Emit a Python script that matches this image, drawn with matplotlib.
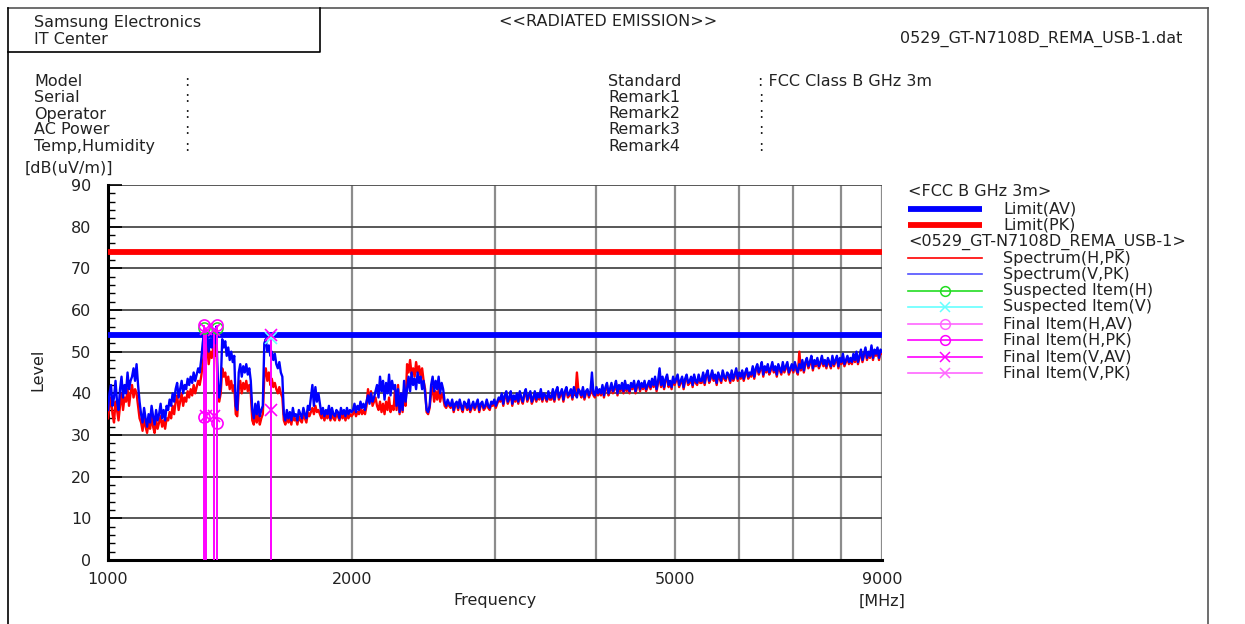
import numpy as np
import matplotlib
matplotlib.use("Agg")
import matplotlib.pyplot as plt
from matplotlib.ticker import FixedLocator, MultipleLocator

plt.rcParams['font.family'] = ['DejaVu Sans']

# ---------------- data ----------------
limit_freq = [1000, 9000]
limit_av = [54, 54]
limit_pk = [74, 74]

# Spectrum (V, PK) levels; sweep 1000-9000 MHz (log-spaced sweep points)
spec_v = ([36, 40, 42, 37, 39, 43, 38, 36, 41, 44, 39, 42, 40, 45, 41, 43, 44, 46, 43, 47]
          + [42, 38]
          + [35, 33, 36.5, 34, 32, 35, 33, 37, 34.5, 32.5, 36, 33.5, 35, 37.5, 34, 36, 33.5, 37]
          + [36, 38.5, 37, 40, 38, 41, 42.5, 39, 41, 43, 40, 42, 41, 43.5, 42, 44, 42.5, 45, 43, 44.5, 46]
          + [45, 48, 52]
          + [55, 52, 54.5, 50, 53, 51, 55.5, 52, 56]
          + [44, 39, 42]
          + [53, 51, 52.5, 49, 51, 48, 50, 47.5, 49]
          + [37, 36]
          + [45, 47, 44, 46.5, 45, 47, 44.5, 46, 43]
          + [36, 34, 37.5, 35, 38, 34.5, 36, 37]
          + [52, 53, 50, 51.5, 49, 50, 48, 49.5, 47, 46, 47.5, 45, 44]
          + [35, 33.5, 36, 34, 35.5, 33.5, 36.5, 34.5, 35, 33.5, 36, 35, 34, 36.5, 35, 34, 37, 36]
          + [39, 42, 37, 41.5, 38, 40, 37.5]
          + [35, 36.5, 34.5, 36, 35, 37, 34, 36.5, 35, 34.5, 36, 35.5, 34, 36.5, 35, 36, 34.5, 36.5, 35, 36, 35.5]
          + [36, 37.5, 35.5, 37, 36, 38, 36.5, 37.5, 36]
          + [38, 39.5, 37.5, 40, 38, 39, 40.5]
          + [42, 39, 44, 40.5, 43, 38.5, 42.5, 40, 44.5, 39.5, 43, 41, 42]
          + [37, 41, 35.5, 40, 36, 43, 38]
          + [41, 44, 40.5, 45, 42, 43.5, 41, 45, 42.5, 44, 41, 43, 40]
          + [36, 35.5, 37]
          + [42, 44, 40.5, 43, 41, 44, 40, 42.5, 41]
          + [38, 37, 38.5, 37.5]
          + [37, 38.5, 36, 37.5, 38, 36.5, 38.5, 37, 36, 38, 37.5, 36.5, 38.5, 36, 37, 38, 36.5,
             37.5, 38.5, 36, 37.5, 38, 36.5, 37, 38.5, 37, 36.5, 38, 37.5, 38.5, 37, 38, 39]
          + [38.5, 40, 37.5, 39.5, 40.5, 38, 39, 40.5, 37.5, 39.5, 38.5, 40, 38, 40.5, 39, 38, 40,
             41, 38.5, 39.5, 40.5, 38, 39, 40.5, 38.5, 40, 39, 41, 38.5, 40, 39.5, 38.5, 40.5, 39]
          + [39, 41, 38.5, 40.5, 41.5, 39, 40, 41, 38.5, 40.5, 41.5, 39.5, 40, 41, 39, 41.5, 40,
             39, 41, 40.5, 39.5, 41.5, 39, 40.5, 41, 39.5, 40.5, 45, 40, 39.5, 41.5, 40, 41]
          + [40, 42, 39.5, 41.5, 42.5, 40, 41, 42.5, 40.5, 41.5, 43, 40, 42, 41, 42.5, 40.5, 43,
             41, 42, 40.5, 42.5, 41.5, 43, 40.5, 42, 43, 41, 42.5, 41.5, 43, 41, 42, 43]
          + [41.5, 43.5, 42, 44, 41, 43, 46, 42, 44, 41.5, 43.5, 44.5, 42, 43, 41.5, 44, 42.5,
             43.5, 44.5, 42, 43, 44, 41.5, 43.5, 44.5, 42.5, 43, 44, 42, 44.5, 43, 42.5, 44.5, 43]
          + [43, 45, 42.5, 44.5, 45.5, 43, 44, 45.5, 43.5, 44.5, 42.5, 45, 44, 43, 45.5, 44, 43.5,
             45, 44.5, 43, 45.5, 43.5, 44.5, 46, 43.5, 45, 44, 45.5, 43.5, 45, 46, 44, 45]
          + [44.5, 46.5, 44, 46, 47, 45, 46, 47.5, 44.5, 46.5, 45.5, 47, 45, 46, 47.5, 45.5, 46.5,
             44.5, 47, 46, 45, 47.5, 45.5, 46.5, 47.5, 45, 46, 47, 45.5, 47.5, 46, 45, 47]
          + [46, 48, 45.5, 47.5, 48.5, 46.5, 47.5, 49, 46, 48, 47, 48.5, 46.5, 47.5, 49, 47, 48,
             46.5, 48.5, 47.5, 46.5, 49, 47, 48, 49, 46.5, 48.5, 47.5, 49.5, 47, 48, 49, 47.5, 48.5]
          + [47.5, 49.5, 48, 50, 47.5, 49, 50.5, 48, 49.5, 51, 48.5, 50, 49, 51.5, 48.5, 50.5,
             49.5, 51, 48.5, 50.5, 50])

# Spectrum (H, PK) levels
spec_h = ([34, 37, 39, 35, 33, 38, 36, 33.5, 37, 40, 36, 39, 38, 41, 37, 40, 42, 39, 41, 40]
          + [37, 34]
          + [33, 31, 34, 32, 30.5, 33, 31.5, 34.5, 32, 30.5, 33.5, 31.5, 33, 34.5, 32, 33.5, 31.5, 34]
          + [33.5, 35.5, 34, 37, 35, 38, 39.5, 36, 38, 40, 37, 39, 38, 40.5, 39, 41, 39.5, 42, 40, 41.5, 43]
          + [42, 44, 47]
          + [50, 48, 52, 47, 50, 48.5, 51, 49, 52]
          + [41, 38, 40]
          + [46, 44, 45, 42, 44, 41, 43, 40.5, 42]
          + [35, 34.5]
          + [41, 43, 40, 42.5, 41, 43, 40.5, 42, 40]
          + [33.5, 32.5, 35, 33, 35.5, 32.5, 34, 35]
          + [44, 46, 43, 45, 42, 43.5, 41.5, 42.5, 41, 40, 41.5, 40, 39]
          + [33.5, 32.5, 34.5, 33, 34, 32.5, 35, 33.5, 34, 32.5, 34.5, 33.5, 33, 35, 34, 33, 35.5, 34.5]
          + [35.5, 36.5, 35, 37, 35.5, 36, 35]
          + [34, 35, 33.5, 35, 34, 35.5, 33.5, 35, 34, 33.5, 35, 34.5, 33.5, 35.5, 34, 35, 33.5, 35, 34, 35, 34.5]
          + [35, 36, 34.5, 35.5, 35, 36.5, 35, 36, 35]
          + [37, 41, 38, 40.5, 37, 38, 39]
          + [37, 36, 38, 35.5, 37.5, 35, 38, 36, 39, 35.5, 37, 36, 41]
          + [36, 42, 35, 39, 35.5, 41, 37]
          + [47, 45, 48, 44.5, 46, 44, 47.5, 45, 46.5, 44, 46, 43, 41]
          + [35.5, 35, 36.5]
          + [40, 41.5, 38, 40.5, 38.5, 41, 38, 40, 39]
          + [37, 36.5, 37.5, 37]
          + [36.5, 38, 35.5, 37, 37.5, 36, 38, 36.5, 35.5, 37.5, 37, 36, 38, 35.5, 36.5, 37.5, 36,
             37, 38, 35.5, 37, 37.5, 36, 36.5, 38, 36.5, 36, 37.5, 37, 38, 36.5, 37.5, 38.5]
          + [38, 39.5, 37, 39, 40, 37.5, 38.5, 40, 37, 39, 38, 39.5, 37.5, 40, 38.5, 37.5, 39.5,
             40.5, 38, 39, 40, 37.5, 38.5, 40, 38, 39.5, 38.5, 40.5, 38, 39.5, 39, 38, 40, 38.5]
          + [38.5, 40.5, 38, 40, 41, 38.5, 39.5, 40.5, 38, 40, 41, 39, 39.5, 40.5, 38.5, 41, 39.5,
             45, 40.5, 40, 39, 41, 38.5, 40, 40.5, 39, 40, 41, 39.5, 39, 41, 39.5, 40.5]
          + [39.5, 41.5, 39, 41, 42, 39.5, 40.5, 42, 40, 41, 42.5, 39.5, 41.5, 40.5, 42, 40, 42.5,
             40.5, 41.5, 40, 42, 41, 42.5, 40, 41.5, 42.5, 40.5, 42, 41, 42.5, 40.5, 41.5, 42.5]
          + [41, 43, 41.5, 43.5, 40.5, 42.5, 44, 41.5, 43.5, 41, 43, 44, 41.5, 42.5, 41, 43.5, 42,
             43, 44, 41.5, 42.5, 43.5, 41, 43, 44, 42, 42.5, 43.5, 41.5, 44, 42.5, 42, 44, 42.5]
          + [42.5, 44.5, 42, 44, 45, 42.5, 43.5, 45, 43, 44, 42, 44.5, 43.5, 42.5, 45, 43.5, 43,
             44.5, 44, 42.5, 45, 43, 44, 45.5, 43, 44.5, 43.5, 45, 43, 44.5, 45.5, 43.5, 44.5]
          + [44, 46, 43.5, 45.5, 46.5, 44.5, 45.5, 47, 44, 46, 45, 46.5, 44.5, 45.5, 47, 45, 46,
             44, 46.5, 45.5, 44.5, 47, 45, 46, 47, 44.5, 45.5, 46.5, 45, 47, 45.5, 44.5, 50]
          + [45.5, 47.5, 45, 47, 48, 46, 47, 48.5, 45.5, 47.5, 46.5, 48, 46, 47, 48.5, 46.5, 47.5,
             46, 48, 47, 46, 48.5, 46.5, 47.5, 48.5, 46, 48, 47, 49, 46.5, 47.5, 48.5, 47, 48]
          + [47, 49, 47.5, 49.5, 47, 48.5, 50, 47.5, 49, 50.5, 48, 49.5, 48.5, 51, 48, 50, 49,
             50.5, 48, 50, 49.5])

# Final items
final_h_freq = [1313, 1361]
final_h_pk = [56.3, 56.5]
final_h_av = [34.3, 32.8]
final_v_freq = [1320, 1350, 1587]
final_v_pk = [55.5, 55.3, 54.0]
final_v_av = [34.5, 34.6, 36.0]
# Suspected items
susp_h_freq = [1313, 1361]
susp_h_lvl = [55.8, 55.6]
susp_v_freq = [1587]
susp_v_lvl = [53.4]

y_ticks = [0, 10, 20, 30, 40, 50, 60, 70, 80, 90]
x_grid = [1000, 2000, 3000, 4000, 5000, 6000, 7000, 8000, 9000]
x_labels = {1000: "1000", 2000: "2000", 5000: "5000", 9000: "9000"}

# ---------------- figure ----------------
W, H = 1245, 624
fig = plt.figure(figsize=(W / 100, H / 100), dpi=100)

ax = fig.add_axes([108 / W, 1 - 560 / H, (882 - 108) / W, (560 - 185) / H])
ax.set_xscale('log')
ax.set_xlim(1000, 9000)
ax.set_ylim(0, 90)

fv = np.geomspace(1000, 9000, len(spec_v))
fh = np.geomspace(1000, 9000, len(spec_h))

# grid
for g in x_grid[1:]:
    ax.axvline(g, color='#8c8c8c', lw=1.6, zorder=1)
for t in y_ticks[1:]:
    ax.axhline(t, color='#4a4a4a', lw=1.3, zorder=1)

ax.plot(fh, spec_h, color='#ff0000', lw=1.7, zorder=3)
ax.plot(fv, spec_v, color='#0000ff', lw=1.7, zorder=4)

ax.plot(limit_freq, limit_pk, color='#ff0000', lw=4.2, zorder=5, solid_capstyle='butt')
ax.plot(limit_freq, limit_av, color='#0000ff', lw=4.2, zorder=5, solid_capstyle='butt')

mag = '#ff00ff'
ax.vlines(final_h_freq, 0, final_h_pk, color=mag, lw=1.4, zorder=6)
ax.vlines(final_v_freq, 0, final_v_pk, color=mag, lw=1.4, zorder=6)
ax.plot(susp_h_freq, susp_h_lvl, 'o', mfc='none', mec='#22dd22', ms=8, mew=1.1, zorder=6)
ax.plot(susp_v_freq, susp_v_lvl, 'x', color='#66ffff', ms=8, mew=1.2, zorder=6)
ax.plot(final_h_freq, final_h_pk, 'o', mfc='none', mec=mag, ms=8, mew=1.2, zorder=7)
ax.plot(final_h_freq, final_h_av, 'o', mfc='none', mec=mag, ms=8, mew=1.2, zorder=7)
ax.plot(final_v_freq, final_v_pk, 'x', color=mag, ms=8, mew=1.2, zorder=7)
ax.plot(final_v_freq, final_v_av, 'x', color=mag, ms=8, mew=1.2, zorder=7)

fs = 11.5
tc = '#222222'

ax.xaxis.set_major_locator(FixedLocator(x_grid))
ax.xaxis.set_minor_locator(FixedLocator([]))
ax.set_xticklabels([x_labels.get(g, "") for g in x_grid])
ax.tick_params(axis='x', length=0, labelsize=fs, pad=9, labelcolor=tc)
ax.yaxis.set_major_locator(FixedLocator(y_ticks))
ax.yaxis.set_minor_locator(MultipleLocator(2))
ax.tick_params(axis='y', which='major', direction='in', length=10, width=1.2, labelsize=fs, pad=12, labelcolor=tc)
ax.tick_params(axis='y', which='minor', direction='in', length=5, width=1.0)
for s in ['top', 'right']:
    ax.spines[s].set_visible(False)
ax.spines['left'].set_linewidth(2.2)
ax.spines['bottom'].set_linewidth(2.2)

# ---------------- decoration overlay (pixel coords) ----------------
ov = fig.add_axes([0, 0, 1, 1], zorder=-1)
ov.set_xlim(0, W)
ov.set_ylim(H, 0)
ov.axis('off')

# frame
ov.plot([8, 1208], [8, 8], color='#555555', lw=1.2)
ov.plot([8, 8], [8, H], color='black', lw=1.2)
ov.plot([1208, 1208], [8, H], color='#555555', lw=1.2)
ov.plot([8, 320, 320], [52, 52, 8], color='black', lw=1.2)


def T(x, y, s, ha='left', **kw):
    fig.text(x / W, 1 - y / H, s, ha=ha, va='center', fontsize=kw.pop('fontsize', fs), color=tc, **kw)


T(34, 22, "Samsung Electronics")
T(34, 39, "IT Center")
T(608, 22, "<<RADIATED EMISSION>>", ha='center')
T(1182, 39, "0529_GT-N7108D_REMA_USB-1.dat", ha='right')

left_labels = ["Model", "Serial", "Operator", "AC Power", "Temp,Humidity"]
right_labels = ["Standard", "Remark1", "Remark2", "Remark3", "Remark4"]
right_values = ["FCC Class B GHz 3m", "", "", "", ""]
rows_y = [81, 97, 114, 130, 146]
for yy, a in zip(rows_y, left_labels):
    T(34, yy, a)
    T(184, yy, ":")
for yy, a, v in zip(rows_y, right_labels, right_values):
    T(608, yy, a)
    T(758, yy, (": " + v) if v else ":")

T(25, 168, "[dB(uV/m)]")
T(38, 370, "Level", ha='center', rotation=90)
T(495, 601, "Frequency", ha='center')
T(882, 601, "[MHz]", ha='center')

# legend
lx0, lx1, tx = 908, 982, 1003
T(908, 192, "<FCC B GHz 3m>")
leg_rows = [
    (209, "Limit(AV)", '#0000ff'),
    (225, "Limit(PK)", '#ff0000'),
]
for yy, lab, c in leg_rows:
    ov.plot([lx0, lx1], [yy, yy], color=c, lw=4.2, solid_capstyle='butt')
    T(tx, yy, lab)
T(908, 242, "<0529_GT-N7108D_REMA_USB-1>")
leg_rows2 = [
    (258, "Spectrum(H,PK)", '#ff0000', None),
    (274, "Spectrum(V,PK)", '#5050ff', None),
    (291, "Suspected Item(H)", '#22dd22', 'o'),
    (307, "Suspected Item(V)", '#66ffff', 'x'),
    (324, "Final Item(H,AV)", '#ff66ff', 'o'),
    (340, "Final Item(H,PK)", '#ff00ff', 'o'),
    (357, "Final Item(V,AV)", '#ff00ff', 'x'),
    (373, "Final Item(V,PK)", '#ff66ff', 'x'),
]
for yy, lab, c, mk in leg_rows2:
    ov.plot([lx0, lx1], [yy, yy], color=c, lw=1.2)
    if mk == 'o':
        ov.plot([(lx0 + lx1) / 2], [yy], 'o', mfc='none', mec=c, ms=7, mew=1.1)
    elif mk == 'x':
        ov.plot([(lx0 + lx1) / 2], [yy], 'x', color=c, ms=7, mew=1.1)
    T(tx, yy, lab)

fig.savefig("out.png", dpi=100)
